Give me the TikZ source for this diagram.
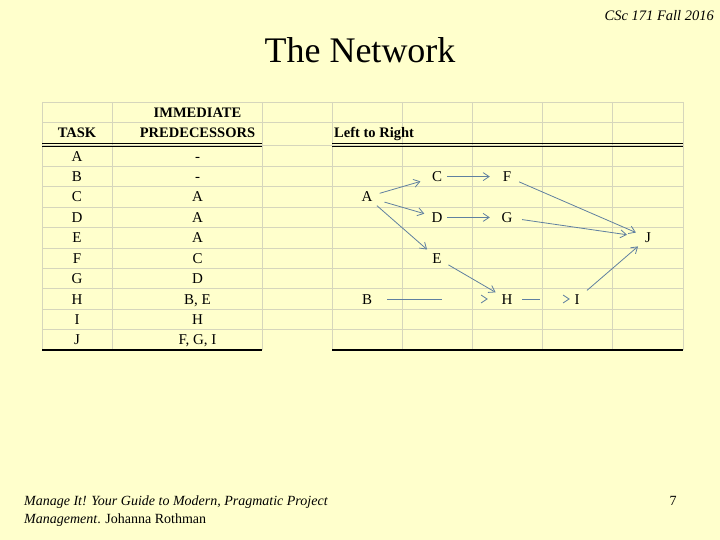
\documentclass[tikz,border=0pt]{standalone}
\usepackage{fontspec}
\setmainfont{Liberation Serif}
\usetikzlibrary{arrows.meta}
\definecolor{bg}{RGB}{255,255,204}
\definecolor{gridc}{RGB}{214,214,188}
\definecolor{arr}{RGB}{96,128,160}
\begin{document}
\begin{tikzpicture}[x=1pt,y=-1pt,
  cell/.style={inner sep=0pt,text height=10pt,text depth=0pt,font=\fontsize{15}{15}\selectfont},
  hcell/.style={cell,font=\fontsize{14.5}{14.5}\selectfont\bfseries},
  gn/.style={circle,inner sep=0pt,minimum size=26pt,text height=10pt,text depth=0pt,font=\fontsize{15}{15}\selectfont},
  conn/.style={draw=arr,line width=0.8pt,-{Straight Barb[length=6pt,width=8pt]}},
  gline/.style={draw=gridc,line width=0.8pt},
  bline/.style={draw=black,line width=1pt}]
\fill[bg] (0,0) rectangle (720,540);
\useasboundingbox (0,0) rectangle (720,540);
% grid
\foreach \x in {42,112,262,332,402,472,542,612,683}
  \draw[gline] (\x,102) -- (\x,350);
\foreach \y in {102,122,145.2,166.4,186.8,207.2,227.6,248,268.4,288.8,309.2,329.6}
  \draw[gline] (42,\y) -- (683,\y);
% black rules
\draw[bline] (42,143.8) -- (262,143.8) (42,146.6) -- (262,146.6);
\draw[bline] (332,143.8) -- (683,143.8) (332,146.6) -- (683,146.6);
\draw[bline,line width=1.2pt] (42,350) -- (262,350) (332,350) -- (683,350);
% titles
\node[anchor=base,inner sep=0pt,font=\fontsize{36}{36}\selectfont] (title) at (360,63) {The Network};
\node[anchor=base east,inner sep=0pt,font=\fontsize{14.5}{14.5}\selectfont\itshape] (hdr) at (714,21) {CSc 171 Fall 2016};
% table header
\node[hcell] (hTask) at (77,133) {TASK};
\node[hcell] (hImm) at (197.5,113) {IMMEDIATE};
\node[hcell] (hPred) at (197.5,133) {PREDECESSORS};
\node[hcell,anchor=west] (hLR) at (334,133) {Left to Right};
% table rows
\node[cell] (tA) at (77,156.2) {A};  \node[cell] (pA) at (197.5,156.2) {-};
\node[cell] (tB) at (77,176.6) {B};  \node[cell] (pB) at (197.5,176.6) {-};
\node[cell] (tC) at (77,197.0) {C};  \node[cell] (pC) at (197.5,197.0) {A};
\node[cell] (tD) at (77,217.4) {D};  \node[cell] (pD) at (197.5,217.4) {A};
\node[cell] (tE) at (77,237.8) {E};  \node[cell] (pE) at (197.5,237.8) {A};
\node[cell] (tF) at (77,258.2) {F};  \node[cell] (pF) at (197.5,258.2) {C};
\node[cell] (tG) at (77,278.6) {G};  \node[cell] (pG) at (197.5,278.6) {D};
\node[cell] (tH) at (77,299.0) {H};  \node[cell] (pH) at (197.5,299.0) {B, E};
\node[cell] (tI) at (77,319.4) {I};  \node[cell] (pI) at (197.5,319.4) {H};
\node[cell] (tJ) at (77,339.8) {J};  \node[cell] (pJ) at (197.5,339.8) {F, G, I};
% network
\node[gn] (A) at (367,197) {A};
\node[gn] (C) at (437,176.6) {C};
\node[gn] (F) at (507,176.6) {F};
\node[gn] (D) at (437,217.4) {D};
\node[gn] (G) at (507,217.4) {G};
\node[gn] (J) at (648,237.8) {J};
\node[gn] (E) at (437,258.2) {E};
\node[gn] (B) at (367,299) {B};
\node[gn] (H) at (507,299) {H};
\node[gn] (I) at (577,299) {I};
\draw[conn,shorten >=4pt] (A) -- (C);
\draw[conn,shorten <=5pt] (A) -- (D);
\draw[conn] (A) -- (E);
\draw[conn,shorten <=-3pt,shorten >=4pt] (C) -- (F);
\draw[conn,shorten <=-3pt,shorten >=4pt] (D) -- (G);
\draw[conn] (F) -- (J);
\draw[conn,shorten <=2pt,shorten >=8pt] (G) -- (J);
\draw[conn] (E) -- (H);
\draw[conn,shorten <=7pt,shorten >=6pt,dash pattern=on 55pt off 60pt] (B) -- (H);
\draw[conn,shorten <=2pt,shorten >=-6pt,dash pattern=on 18pt off 40pt] (H) -- (I);
\draw[conn] (I) -- (J);
% footer
\node[anchor=base west,inner sep=0pt,font=\fontsize{14}{14}\selectfont] (ft1) at (24,505) {\itshape Manage It! Your Guide to Modern, Pragmatic Project};
\node[anchor=base west,inner sep=0pt,font=\fontsize{14}{14}\selectfont] (ft2) at (24,523.5) {\itshape Management\upshape. Johanna Rothman};
\node[anchor=base,inner sep=0pt,font=\fontsize{14}{14}\selectfont] (pg) at (673,505) {7};
\end{tikzpicture}
\end{document}
